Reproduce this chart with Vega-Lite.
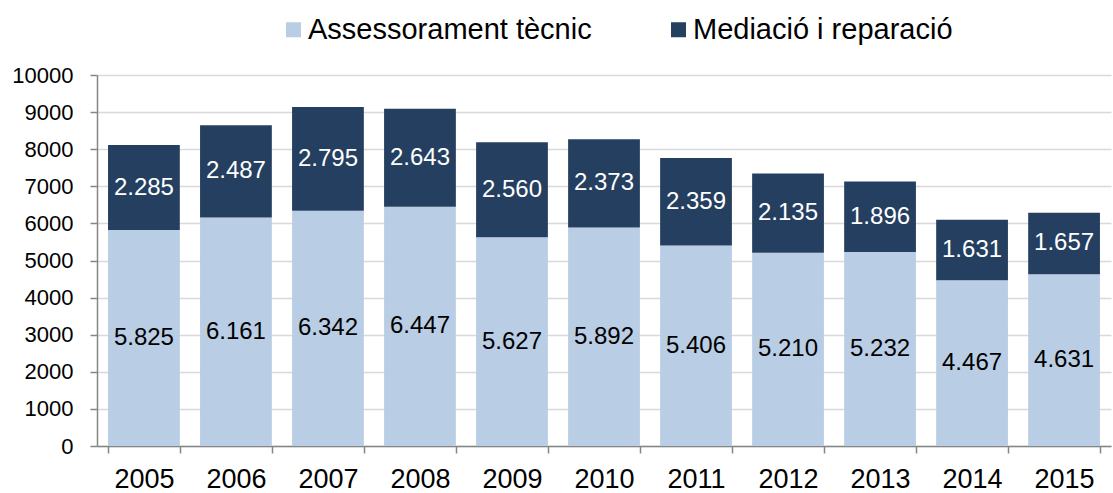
{
  "$schema": "https://vega.github.io/schema/vega-lite/v6.json",
  "width": 1014,
  "height": 371,
  "autosize": "none",
  "padding": {"left": 97, "top": 75, "right": 2, "bottom": 47},
  "background": "white",
  "config": {
    "font": "Liberation Sans",
    "view": {"stroke": null},
    "locale": {"number": {"decimal": ",", "thousands": ".", "grouping": [3], "currency": ["", " €"]}},
    "axisY": {
      "title": null,
      "values": [0, 1000, 2000, 3000, 4000, 5000, 6000, 7000, 8000, 9000, 10000],
      "format": "d",
      "labelOverlap": false,
      "labelFontSize": 22,
      "labelColor": "black",
      "labelPadding": 17,
      "domainColor": "#868686",
      "domainWidth": 1.5,
      "tickColor": "#868686",
      "tickWidth": 1.5,
      "tickSize": 7,
      "gridColor": "#D9D9D9",
      "gridWidth": 1.5
    }
  },
  "data": {
    "values": [
      {"year": "2005", "series": "Assessorament tècnic", "order": 1, "value": 5825},
      {"year": "2005", "series": "Mediació i reparació", "order": 2, "value": 2285},
      {"year": "2006", "series": "Assessorament tècnic", "order": 1, "value": 6161},
      {"year": "2006", "series": "Mediació i reparació", "order": 2, "value": 2487},
      {"year": "2007", "series": "Assessorament tècnic", "order": 1, "value": 6342},
      {"year": "2007", "series": "Mediació i reparació", "order": 2, "value": 2795},
      {"year": "2008", "series": "Assessorament tècnic", "order": 1, "value": 6447},
      {"year": "2008", "series": "Mediació i reparació", "order": 2, "value": 2643},
      {"year": "2009", "series": "Assessorament tècnic", "order": 1, "value": 5627},
      {"year": "2009", "series": "Mediació i reparació", "order": 2, "value": 2560},
      {"year": "2010", "series": "Assessorament tècnic", "order": 1, "value": 5892},
      {"year": "2010", "series": "Mediació i reparació", "order": 2, "value": 2373},
      {"year": "2011", "series": "Assessorament tècnic", "order": 1, "value": 5406},
      {"year": "2011", "series": "Mediació i reparació", "order": 2, "value": 2359},
      {"year": "2012", "series": "Assessorament tècnic", "order": 1, "value": 5210},
      {"year": "2012", "series": "Mediació i reparació", "order": 2, "value": 2135},
      {"year": "2013", "series": "Assessorament tècnic", "order": 1, "value": 5232},
      {"year": "2013", "series": "Mediació i reparació", "order": 2, "value": 1896},
      {"year": "2014", "series": "Assessorament tècnic", "order": 1, "value": 4467},
      {"year": "2014", "series": "Mediació i reparació", "order": 2, "value": 1631},
      {"year": "2015", "series": "Assessorament tècnic", "order": 1, "value": 4631},
      {"year": "2015", "series": "Mediació i reparació", "order": 2, "value": 1657}
    ]
  },
  "transform": [
    {"stack": "value", "groupby": ["year"], "sort": [{"field": "order", "order": "ascending"}], "as": ["y0", "y1"]},
    {"calculate": "(datum.y0 + datum.y1) / 2", "as": "mid"}
  ],
  "encoding": {
    "x": {
      "field": "year",
      "type": "ordinal",
      "scale": {"paddingInner": 0.22, "paddingOuter": 0.12},
      "axis": {
        "title": null,
        "labelAngle": 0,
        "labelFontSize": 27,
        "labelColor": "black",
        "labelPadding": 13,
        "domainColor": "#868686",
        "domainWidth": 1.5,
        "tickColor": "#868686",
        "tickWidth": 1.5,
        "tickSize": 7,
        "tickBand": "extent",
        "grid": false
      }
    }
  },
  "layer": [
    {
      "mark": {"type": "bar"},
      "encoding": {
        "y": {
          "field": "y0",
          "type": "quantitative",
          "scale": {"domain": [0, 10000]},
          "axis": {"title": null}
        },
        "y2": {"field": "y1"},
        "color": {
          "field": "series",
          "type": "nominal",
          "sort": ["Assessorament tècnic", "Mediació i reparació"],
          "scale": {"domain": ["Assessorament tècnic", "Mediació i reparació"], "range": ["#B9CDE5", "#243F60"]},
          "legend": {
            "title": null,
            "orient": "none",
            "direction": "horizontal",
            "legendX": 182,
            "legendY": -60,
            "padding": 0,
            "symbolType": "square",
            "symbolSize": 225,
            "symbolStrokeWidth": 0,
            "labelFontSize": 29,
            "labelColor": "black",
            "labelOffset": 0,
            "columnPadding": 72,
            "labelLimit": 500
          }
        }
      }
    },
    {
      "mark": {"type": "text", "fontSize": 24, "baseline": "middle", "align": "center"},
      "encoding": {
        "y": {"field": "mid", "type": "quantitative", "axis": {"title": null}},
        "text": {"field": "value", "type": "quantitative", "format": ",d"},
        "color": {
          "condition": {"test": "datum.series === 'Mediació i reparació'", "value": "white"},
          "value": "black"
        }
      }
    }
  ]
}
